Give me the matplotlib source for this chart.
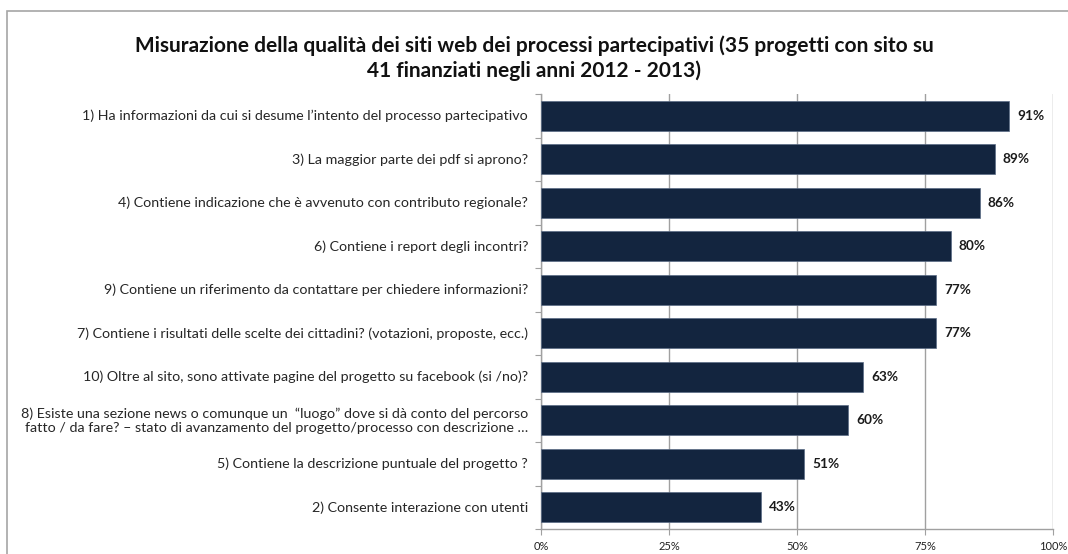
import matplotlib.pyplot as plt
from matplotlib.patches import Rectangle

# categories from top to bottom as shown in the chart
labels = [
    "1) Ha informazioni da cui si desume l\u2019intento del processo partecipativo",
    "3) La maggior parte dei pdf si aprono?",
    "4) Contiene indicazione che \u00e8 avvenuto con contributo regionale?",
    "6) Contiene i report degli incontri?",
    "9) Contiene un riferimento da contattare per chiedere informazioni?",
    "7) Contiene i risultati delle scelte dei cittadini? (votazioni, proposte, ecc.)",
    "10) Oltre al sito, sono attivate pagine del progetto su facebook (si /no)?",
    "8) Esiste una sezione news o comunque un  \u201cluogo\u201d dove si d\u00e0 conto del percorso\n"
    "fatto / da fare? \u2013 stato di avanzamento del progetto/processo con descrizione \u2026",
    "5) Contiene la descrizione puntuale del progetto ?",
    "2) Consente interazione con utenti",
]
values = [91.4, 88.6, 85.7, 80.0, 77.1, 77.1, 62.9, 60.0, 51.4, 42.9]
xticks = [0, 25, 50, 75, 100]
xticklabels = ["0%", "25%", "50%", "75%", "100%"]

title = ("Misurazione della qualit\u00e0 dei siti web dei processi partecipativi (35 progetti con sito su\n"
         "41 finanziati negli anni 2012 - 2013)")

plt.rcParams['font.family'] = ['Lato', 'DejaVu Sans']

W, H = 1068, 554
fig = plt.figure(figsize=(W / 100, H / 100), dpi=100)
fig.patch.set_facecolor('white')

# outer chart frame (runs past the right and bottom edges)
fig.patches.append(Rectangle((6.5 / W, -0.1), 1.2, 1 - 11 / H + 0.1,
                             transform=fig.transFigure, fill=False,
                             edgecolor='#A6A6A6', linewidth=1.2))

ax = fig.add_axes([541 / W, 1 - 529 / H, (1053 - 541) / W, (529 - 94) / H])

n = len(values)
ypos = list(range(n))
ax.barh(ypos, values, height=0.7, color='#13253F', edgecolor='#5A6B85',
        linewidth=0.5, zorder=3)
ax.set_ylim(n - 0.5, -0.5)
ax.set_xlim(0, 100)

for y, v in zip(ypos, values):
    ax.text(v + 1.6, y, f"{round(v)}%", va='center', ha='left',
            fontsize=9.8, fontweight='bold', color='#1a1a1a')

ax.set_xticks(xticks)
ax.set_xticklabels(xticklabels, fontsize=8, color='#222222')
ax.xaxis.grid(True, color='#A0A0A0', linewidth=1, zorder=0)
ax.tick_params(axis='x', length=4, color='#A0A0A0', pad=5)

ax.set_yticks([i + 0.5 for i in range(-1, n)], minor=False)
ax.set_yticklabels([])
ax.tick_params(axis='y', length=4, color='#A0A0A0')
for y, lab in zip(ypos, labels):
    ax.text(-0.025, y, lab, transform=ax.get_yaxis_transform(),
            ha='right', va='center', multialignment='right',
            fontsize=10.3, color='#262626', linespacing=1.2)

for s in ['top', 'right']:
    ax.spines[s].set_visible(False)
for s in ['left', 'bottom']:
    ax.spines[s].set_color('#A0A0A0')
    ax.spines[s].set_linewidth(1)

fig.text(0.5, 1 - 58 / H, title, ha='center', va='center', fontsize=15,
         fontweight='bold', color='#111111', linespacing=1.3)

fig.savefig('out.png', dpi=100)
